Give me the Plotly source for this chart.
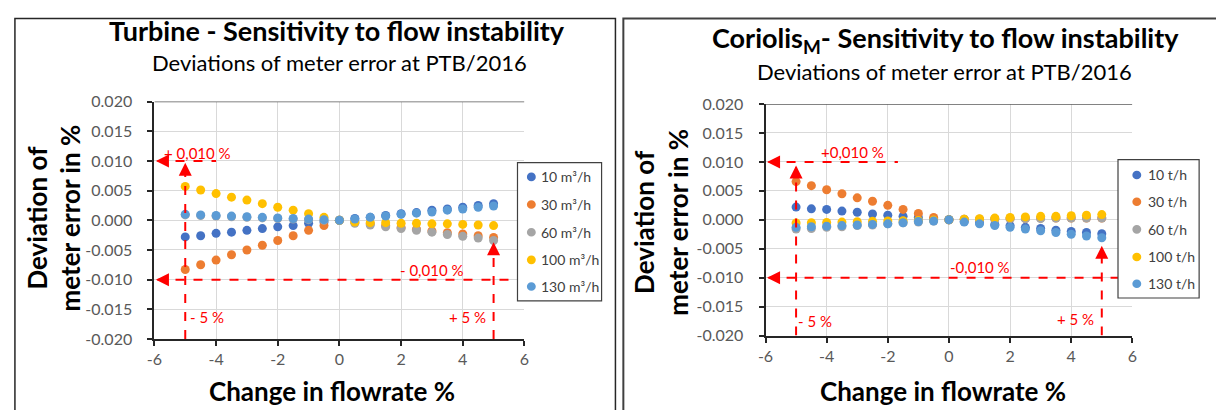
import plotly.graph_objects as go

# ---- data -------------------------------------------------------------
flow_change = [-5, -4.5, -4, -3.5, -3, -2.5, -2, -1.5, -1, -0.5, 0,
               0.5, 1, 1.5, 2, 2.5, 3, 3.5, 4, 4.5, 5]

turbine_labels = ["10 m³/h", "30 m³/h", "60 m³/h", "100 m³/h", "130 m³/h"]
turbine_10 = [-0.0028, -0.0026, -0.0022, -0.0020, -0.0017, -0.0014, -0.0011, -0.0009, -0.0005, -0.0003, 0.0,
              0.0003, 0.0005, 0.0008, 0.0011, 0.0013, 0.0017, 0.0019, 0.0022, 0.0025, 0.0028]
turbine_30 = [-0.0083, -0.0075, -0.0067, -0.0058, -0.0050, -0.0042, -0.0034, -0.0026, -0.0017, -0.0009, 0.0,
              -0.0003, -0.0006, -0.0009, -0.0012, -0.0015, -0.0018, -0.0021, -0.0023, -0.0026, -0.0029]
turbine_60 = [0.0009, 0.0008, 0.0007, 0.0006, 0.0005, 0.0004, 0.0003, 0.0002, 0.0001, 0.0, 0.0,
              -0.0005, -0.0008, -0.0011, -0.0014, -0.0017, -0.0020, -0.0024, -0.0027, -0.0030, -0.0034]
turbine_100 = [0.0057, 0.0051, 0.0045, 0.0039, 0.0034, 0.0028, 0.0022, 0.0017, 0.0011, 0.0005, 0.0,
               -0.0003, -0.0004, -0.0004, -0.0005, -0.0005, -0.0006, -0.0006, -0.0007, -0.0008, -0.0009]
turbine_130 = [0.0010, 0.0009, 0.0008, 0.0007, 0.0006, 0.0005, 0.0004, 0.0003, 0.0002, 0.0001, 0.0,
               0.0002, 0.0005, 0.0007, 0.0010, 0.0012, 0.0014, 0.0017, 0.0019, 0.0022, 0.0024]

coriolis_labels = ["10 t/h", "30 t/h", "60 t/h", "100 t/h", "130 t/h"]
coriolis_10 = [0.0022, 0.0019, 0.0018, 0.0015, 0.0013, 0.0010, 0.0008, 0.0006, 0.0004, 0.0002, 0.0,
               -0.0003, -0.0005, -0.0008, -0.0010, -0.0013, -0.0015, -0.0018, -0.0020, -0.0022, -0.0024]
coriolis_30 = [0.0066, 0.0059, 0.0052, 0.0045, 0.0038, 0.0032, 0.0025, 0.0018, 0.0011, 0.0004, 0.0,
               0.0001, 0.0001, 0.0002, 0.0002, 0.0002, 0.0003, 0.0003, 0.0003, 0.0003, 0.0003]
coriolis_60 = [-0.0016, -0.0015, -0.0013, -0.0012, -0.0010, -0.0009, -0.0007, -0.0005, -0.0004, -0.0002, 0.0,
               0.0001, 0.0001, 0.0001, 0.0002, 0.0002, 0.0002, 0.0003, 0.0003, 0.0003, 0.0003]
coriolis_100 = [-0.00055, -0.0005, -0.00045, -0.0004, -0.00033, -0.00027, -0.0002, -0.00016, -0.0001, -0.00005, 0.0,
                0.0001, 0.0002, 0.0003, 0.0004, 0.0005, 0.0006, 0.0006, 0.0007, 0.0008, 0.0009]
coriolis_130 = [-0.0013, -0.0012, -0.0011, -0.0010, -0.0009, -0.0008, -0.0007, -0.0005, -0.0003, -0.0002, 0.0,
                -0.0004, -0.0007, -0.0010, -0.0013, -0.0016, -0.0019, -0.0022, -0.0025, -0.0028, -0.0031]

y_ticks = [-0.020, -0.015, -0.010, -0.005, 0.000, 0.005, 0.010, 0.015, 0.020]
x_ticks = [-6, -4, -2, 0, 2, 4, 6]
y_tick_text = [f"{v:.3f}" for v in y_ticks]
x_tick_text = [str(v) for v in x_ticks]

limit = 0.010          # permitted deviation band
flow_step = 5          # flowrate change marked by the guides

colors = ["#4472C4", "#ED7D31", "#A5A5A5", "#FFC000", "#5B9BD5"]
RED = "#FF0000"
FONT = "Lato"
W, H = 1216, 410


def px(x):
    return x / W


def py(y):
    return 1 - y / H


fig = go.Figure()

panels = [
    ("x", "y", turbine_labels, [turbine_10, turbine_30, turbine_60, turbine_100, turbine_130]),
    ("x2", "y2", coriolis_labels, [coriolis_10, coriolis_30, coriolis_60, coriolis_100, coriolis_130]),
]
for xa, ya, labels, series in panels:
    for lab, vals, col in zip(labels, series, colors):
        fig.add_trace(go.Scatter(
            x=flow_change, y=vals, mode="markers", name=lab, xaxis=xa, yaxis=ya,
            marker=dict(size=9, color=col), showlegend=False, cliponaxis=False))

axis_common = dict(
    showgrid=True, gridcolor="#D9D9D9", gridwidth=1, zeroline=False,
    showline=True, linecolor="#262626", linewidth=2,
    ticks="outside", ticklen=5, tickwidth=1.5, tickcolor="#262626",
    tickfont=dict(family=FONT, size=16, color="#595959"),
)
x_common = dict(range=[-6, 6], tickvals=x_ticks, ticktext=x_tick_text, **axis_common)
y_common = dict(range=[-0.02, 0.02], tickvals=y_ticks, ticktext=y_tick_text, ticklabelstandoff=12, **axis_common)
fig.update_layout(
    width=W, height=H, margin=dict(l=0, r=0, t=0, b=0),
    paper_bgcolor="white", plot_bgcolor="white",
    xaxis=dict(domain=[px(148), px(522)], anchor="y", **x_common),
    yaxis=dict(domain=[py(345), py(96)], anchor="x", **y_common),
    xaxis2=dict(domain=[px(765.7), px(1136.5)], anchor="y2", **x_common),
    yaxis2=dict(domain=[py(341.4), py(98.6)], anchor="x2", **y_common),
)

shapes = []
annotations = []

# outer chart frames
shapes.append(dict(type="rect", xref="paper", yref="paper", x0=px(7), x1=px(614), y0=py(440), y1=py(9),
                   line=dict(color="#262626", width=1.5), layer="below"))
shapes.append(dict(type="rect", xref="paper", yref="paper", x0=px(622), x1=px(1240), y0=py(440), y1=py(9),
                   line=dict(color="#404040", width=2), layer="below"))

# dark top edge of each plot area
for xa, ya in [("x", "y"), ("x2", "y2")]:
    shapes.append(dict(type="line", xref=xa, yref=ya, x0=-6, x1=6, y0=0.02, y1=0.02,
                       line=dict(color="#595959", width=1.5)))


def dashed(xa, ya, x0, y0, x1, y1):
    shapes.append(dict(type="line", xref=xa, yref=ya, x0=x0, y0=y0, x1=x1, y1=y1,
                       line=dict(color=RED, width=2, dash="dash")))


def arrow_head(xa, ya, x, y, dx, dy):
    annotations.append(dict(xref=xa, yref=ya, x=x, y=y, ax=dx, ay=dy, text="", showarrow=True,
                            arrowhead=2, arrowsize=1.3, arrowwidth=2, arrowcolor=RED))


def red_text(xa, ya, x, y, txt):
    annotations.append(dict(xref=xa, yref=ya, x=x, y=y, text=txt, showarrow=False,
                            font=dict(family=FONT, size=15, color=RED)))


# turbine guides
dashed("x", "y", -5.9, limit, -4.0, limit)
arrow_head("x", "y", -5.95, limit, 12, 0)
dashed("x", "y", -flow_step, -0.02, -flow_step, limit - 0.0006)
arrow_head("x", "y", -flow_step, limit - 0.0003, 0, 12)
dashed("x", "y", -5.9, -limit, 6, -limit)
arrow_head("x", "y", -5.95, -limit, 12, 0)
dashed("x", "y", flow_step, -0.02, flow_step, -0.0042)
arrow_head("x", "y", flow_step, -0.0037, 0, 12)
red_text("x", "y", -4.6, 0.0114, "+ 0,010 %")
red_text("x", "y", 3.0, -0.0084, "- 0,010 %")
red_text("x", "y", -4.3, -0.0163, "- 5 %")
red_text("x", "y", 4.16, -0.0163, "+ 5 %")

# coriolis guides
dashed("x2", "y2", -5.9, limit, -1.67, limit)
arrow_head("x2", "y2", -5.95, limit, 12, 0)
dashed("x2", "y2", -flow_step, -0.02, -flow_step, limit - 0.0009)
arrow_head("x2", "y2", -flow_step, limit - 0.0006, 0, 12)
dashed("x2", "y2", -5.9, -limit, 6, -limit)
arrow_head("x2", "y2", -5.95, -limit, 12, 0)
dashed("x2", "y2", flow_step, -0.02, flow_step, -0.0050)
arrow_head("x2", "y2", flow_step, -0.0045, 0, 12)
red_text("x2", "y2", -3.15, 0.0117, "+0,010 %")
red_text("x2", "y2", 1.0, -0.0081, "-0,010 %")
red_text("x2", "y2", -4.38, -0.0175, "- 5 %")
red_text("x2", "y2", 4.13, -0.0172, "+ 5 %")


def paper_text(x, y, txt, size, bold=False, angle=0, color="black"):
    annotations.append(dict(xref="paper", yref="paper", x=px(x), y=py(y), text=f"<b>{txt}</b>" if bold else txt,
                            showarrow=False, textangle=angle, xanchor="center", yanchor="middle",
                            font=dict(family=FONT, size=size, color=color)))


# titles
paper_text(333, 22, "Turbine - Sensitivity to flow instability", 27, bold=True)
paper_text(335, 55, "Deviations of meter error at PTB/2016", 22)
paper_text(948, 31, "Coriolis<sub>M</sub>- Sensitivity to flow instability", 27, bold=True)
paper_text(947, 64, "Deviations of meter error at PTB/2016", 22)

# axis titles
paper_text(46, 218, "Deviation of<br>meter error in %", 26, bold=True, angle=-90)
paper_text(660, 222, "Deviation of<br>meter error in %", 26, bold=True, angle=-90)
paper_text(328, 400, "Change in flowrate %", 26, bold=True)
paper_text(945, 400, "Change in flowrate %", 26, bold=True)

# legends
legend_boxes = [
    (turbine_labels, (515, 600, 160, 305), 529, 537, [175, 204, 233, 262, 290]),
    (coriolis_labels, (1122, 1204, 157, 302), 1141, 1150, [173, 201, 230, 259, 287]),
]
for labels, (lx0, lx1, ly0, ly1), mx, tx, rows in legend_boxes:
    shapes.append(dict(type="rect", xref="paper", yref="paper", x0=px(lx0), x1=px(lx1), y0=py(ly1), y1=py(ly0),
                       line=dict(color="#404040", width=1.2), fillcolor="white", layer="above"))
    for lab, col, ry in zip(labels, colors, rows):
        shapes.append(dict(type="circle", xref="paper", yref="paper",
                           x0=px(mx - 4.5), x1=px(mx + 4.5), y0=py(ry + 4.5), y1=py(ry - 4.5),
                           fillcolor=col, line=dict(width=0), layer="above"))
        annotations.append(dict(xref="paper", yref="paper", x=px(tx), y=py(ry), text=lab, showarrow=False,
                                xanchor="left", yanchor="middle",
                                font=dict(family=FONT, size=14, color="#404040")))

fig.update_layout(shapes=shapes, annotations=annotations)
fig.write_html("out.html")
